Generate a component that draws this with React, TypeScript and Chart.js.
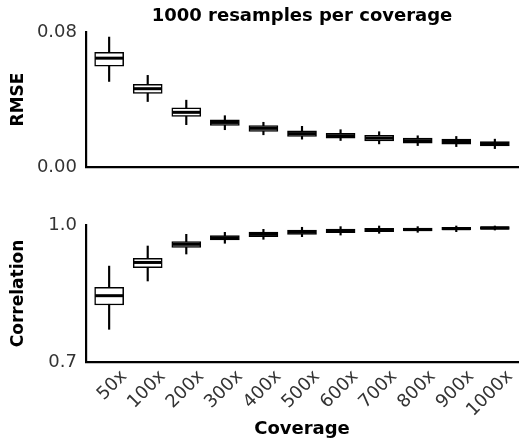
import React, { useEffect, useRef } from "react";
import { Chart, registerables } from "chart.js";

Chart.register(...registerables);

const categories = ["50x", "100x", "200x", "300x", "400x", "500x", "600x", "700x", "800x", "900x", "1000x"];

// RMSE box statistics
const rmseWhiskerLow = [0.0507, 0.0388, 0.0251, 0.0221, 0.0191, 0.0165, 0.0157, 0.0137, 0.0127, 0.0121, 0.0109];
const rmseQ1 = [0.0597, 0.0436, 0.030, 0.0247, 0.0211, 0.0181, 0.0171, 0.0155, 0.0141, 0.0136, 0.0125];
const rmseMedian = [0.0645, 0.0464, 0.0324, 0.0264, 0.0229, 0.0198, 0.0185, 0.0171, 0.0156, 0.0151, 0.0139];
const rmseQ3 = [0.068, 0.049, 0.035, 0.028, 0.0245, 0.0215, 0.0199, 0.0187, 0.0171, 0.0165, 0.0151];
const rmseWhiskerHigh = [0.077, 0.0543, 0.0396, 0.0304, 0.0265, 0.0241, 0.0221, 0.0209, 0.0185, 0.0181, 0.0165];

// Correlation box statistics
const corWhiskerLow = [0.7716, 0.8774, 0.9365, 0.96, 0.9687, 0.9745, 0.978, 0.9818, 0.984, 0.9854, 0.989];
const corQ1 = [0.8248, 0.9066, 0.951, 0.9672, 0.9744, 0.9796, 0.983, 0.9854, 0.9869, 0.989, 0.9905];
const corMedian = [0.8452, 0.918, 0.9577, 0.972, 0.9795, 0.9843, 0.987, 0.989, 0.990, 0.992, 0.9935];
const corQ3 = [0.8636, 0.927, 0.9635, 0.9766, 0.9847, 0.989, 0.9912, 0.9927, 0.9934, 0.995, 0.9964];
const corWhiskerHigh = [0.910, 0.954, 0.9796, 0.984, 0.9905, 0.995, 0.9964, 0.9978, 0.9964, 0.9978, 0.9978];

const rmseTicks = [0, 0.08];
const corTicks = [0.7, 1.0];

const FONT = "'DejaVu Sans', sans-serif";
const TICK_COLOR = "#333333";

function boxDatasets(lo: number[], q1: number[], med: number[], q3: number[], hi: number[]) {
  return [
    {
      type: "bar" as const,
      label: "whisker",
      data: lo.map((v, i) => ({ x: i + 1, y: [v, hi[i]] })),
      backgroundColor: "#000",
      borderWidth: 0,
      barThickness: 1.5,
      grouped: false,
      order: 3,
    },
    {
      type: "bar" as const,
      label: "box",
      data: q1.map((v, i) => ({ x: i + 1, y: [v, q3[i]] })),
      backgroundColor: "#fff",
      borderColor: "#000",
      borderWidth: 1.5,
      borderSkipped: false,
      barThickness: 29,
      grouped: false,
      order: 2,
    },
    {
      type: "scatter" as const,
      label: "median",
      data: med.map((v, i) => ({ x: i + 1, y: v })),
      pointStyle: "line",
      radius: 14,
      hoverRadius: 14,
      borderColor: "#000",
      borderWidth: 3,
      order: 1,
    },
  ];
}

function makeConfig(opts: {
  datasets: any[];
  yTicks: number[];
  decimals: number;
  yTitle: string;
  top: boolean;
}) {
  const { datasets, yTicks, decimals, yTitle, top } = opts;
  return {
    type: "bar" as const,
    data: { datasets },
    options: {
      animation: false as const,
      responsive: false,
      devicePixelRatio: 1,
      layout: {
        autoPadding: false,
        padding: top ? { left: 0, right: 1, top: 0, bottom: 0 } : { left: 0, right: 1, top: 40, bottom: 0 },
      },
      plugins: {
        legend: { display: false },
        tooltip: { enabled: false },
        title: top
          ? {
              display: true,
              fullSize: false,
              text: "1000 resamples per coverage",
              color: "#000",
              font: { family: FONT, size: 18, weight: "bold" as const },
              padding: { top: 6, bottom: 4.4 },
            }
          : { display: false },
      },
      scales: {
        x: {
          type: "linear" as const,
          min: 0.4,
          max: 11.6,
          offset: false,
          afterBuildTicks: (s: any) => {
            s.ticks = categories.map((_, i) => ({ value: i + 1 }));
          },
          afterFit: (s: any) => {
            s.height = top ? 13 : 80;
            s.paddingLeft = 0;
            s.paddingRight = 0;
          },
          grid: { display: false, drawTicks: false },
          border: { display: true, color: "#000", width: 2.2 },
          ticks: {
            display: !top,
            autoSkip: false,
            minRotation: 45,
            maxRotation: 45,
            padding: 4,
            labelOffset: 15,
            color: TICK_COLOR,
            font: { family: FONT, size: 18 },
            callback: (v: any) => categories[Math.round(v) - 1],
          },
          title: top
            ? { display: false }
            : {
                display: true,
                text: "Coverage",
                color: "#000",
                font: { family: FONT, size: 18, weight: "bold" as const },
                padding: { top: 0, bottom: 2 },
              },
        },
        y: {
          type: "linear" as const,
          min: yTicks[0],
          max: yTicks[yTicks.length - 1],
          afterBuildTicks: (s: any) => {
            s.ticks = yTicks.map((v) => ({ value: v }));
          },
          afterFit: (s: any) => {
            s.width = 86;
            s.paddingTop = 0;
            s.paddingBottom = 0;
          },
          grid: { display: false, drawTicks: false },
          border: { display: true, color: "#000", width: 2.2 },
          ticks: {
            padding: 9,
            color: TICK_COLOR,
            font: { family: FONT, size: 18 },
            callback: (v: any) => Number(v).toFixed(decimals),
          },
          title: {
            display: true,
            text: yTitle,
            color: "#000",
            font: { family: FONT, size: 17, weight: "bold" as const },
            padding: { top: 8, bottom: 0 },
          },
        },
      },
    },
  };
}

export default function App() {
  const topRef = useRef<HTMLCanvasElement | null>(null);
  const botRef = useRef<HTMLCanvasElement | null>(null);

  useEffect(() => {
    document.body.style.margin = "0";
    const c1 = new Chart(
      topRef.current as HTMLCanvasElement,
      makeConfig({
        datasets: boxDatasets(rmseWhiskerLow, rmseQ1, rmseMedian, rmseQ3, rmseWhiskerHigh),
        yTicks: rmseTicks,
        decimals: 2,
        yTitle: "RMSE",
        top: true,
      }) as any
    );
    const c2 = new Chart(
      botRef.current as HTMLCanvasElement,
      makeConfig({
        datasets: boxDatasets(corWhiskerLow, corQ1, corMedian, corQ3, corWhiskerHigh),
        yTicks: corTicks,
        decimals: 1,
        yTitle: "Correlation",
        top: false,
      }) as any
    );
    return () => {
      c1.destroy();
      c2.destroy();
    };
  }, []);

  return (
    <div style={{ position: "relative", width: 519, height: 442, background: "#fff" }}>
      <canvas ref={topRef} width={519} height={180} style={{ position: "absolute", left: 0, top: 0, width: 519, height: 180 }} />
      <canvas ref={botRef} width={519} height={257} style={{ position: "absolute", left: 0, top: 185, width: 519, height: 257 }} />
    </div>
  );
}
